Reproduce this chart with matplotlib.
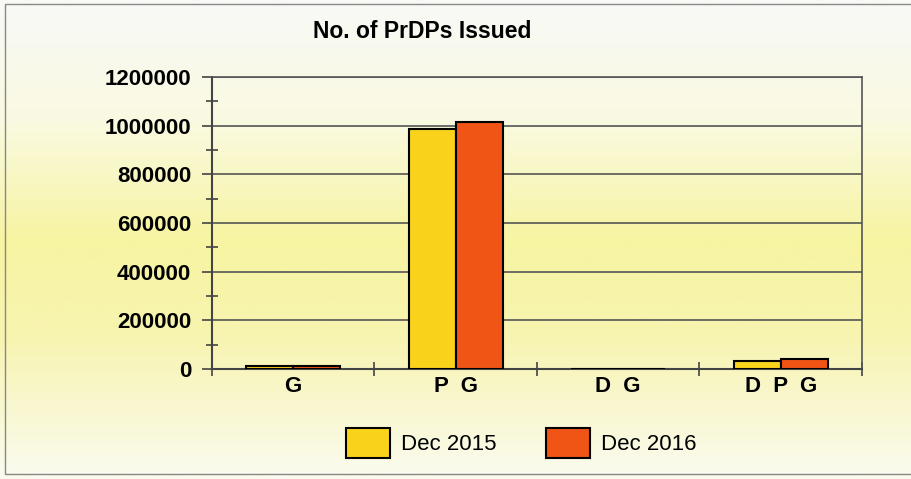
import matplotlib.pyplot as plt
import numpy as np
from matplotlib.colors import LinearSegmentedColormap
from matplotlib.ticker import MultipleLocator, FormatStrFormatter

# data
categories = ["G", "P  G", "D  G", "D  P  G"]
dec_2015 = [12000, 986000, 1500, 33000]
dec_2016 = [12000, 1015000, 1500, 41000]

plt.rcParams['font.family'] = ['Liberation Sans', 'DejaVu Sans']

fig = plt.figure(figsize=(9.11, 4.79), dpi=100)

# background gradient (pale top, yellow middle, white bottom)
bg = fig.add_axes([0, 0, 1, 1], zorder=-2)
cmap = LinearSegmentedColormap.from_list(
    "bg", [(0.0, "#fbfbf0"), (0.3, "#f7f4b0"), (0.5, "#f7f4a2"), (0.75, "#fafae2"), (1.0, "#f8f9f6")])
grad = np.linspace(0, 1, 256).reshape(-1, 1)
bg.imshow(grad, aspect="auto", cmap=cmap, extent=[0, 1, 0, 1])
bg.set_xlim(0, 1)
bg.set_ylim(1, 0)
bg.axis("off")
# thin frame around the chart
bg.plot([0.999, 0.006, 0.006, 0.999], [0.008, 0.008, 0.99, 0.99], color="#888888", lw=1)

ax = fig.add_axes([0.2327, 0.2296, 0.7135, 0.6096])
ax.set_facecolor("none")

x = np.arange(len(categories))
w = 0.29
ax.bar(x - w / 2, dec_2015, w, color="#f9d21c", edgecolor="black", lw=1.5, label="Dec 2015", zorder=3)
ax.bar(x + w / 2, dec_2016, w, color="#f05515", edgecolor="black", lw=1.5, label="Dec 2016", zorder=3)

ax.set_xlim(-0.5, len(categories) - 0.5)
ax.set_ylim(0, 1200000)
ax.yaxis.set_major_locator(MultipleLocator(200000))
ax.yaxis.set_minor_locator(MultipleLocator(100000))
ax.yaxis.set_major_formatter(FormatStrFormatter("%d"))
ax.yaxis.grid(True, color="#555555", lw=1.2, zorder=1)
ax.set_axisbelow(True)

ax.set_xticks(x)
ax.set_xticklabels(categories, fontsize=16, fontweight="bold")
ax.set_xticks(np.arange(-0.5, len(categories)), minor=True)
ax.tick_params(axis="x", which="major", length=0, pad=5)
ax.tick_params(axis="x", which="minor", direction="inout", length=10, width=1.2, color="#444444")
ax.tick_params(axis="y", which="major", direction="out", length=7, width=1.2, color="#444444",
               labelsize=16, pad=8)
ax.tick_params(axis="y", which="minor", direction="inout", length=8, width=1.2, color="#444444")
for lab in ax.get_yticklabels():
    lab.set_fontweight("bold")

for side in ["left", "bottom"]:
    ax.spines[side].set_color("#444444")
    ax.spines[side].set_linewidth(1.5)
for side in ["top", "right"]:
    ax.spines[side].set_color("#555555")
    ax.spines[side].set_linewidth(1.2)

fig.text(0.463, 0.935, "No. of PrDPs Issued", fontsize=16.5, fontweight="bold", ha="center", va="center")

fig.legend(loc="center", bbox_to_anchor=(0.572, 0.075), ncol=2, frameon=False, fontsize=16,
           handlelength=2.0, handleheight=1.7, columnspacing=2.2, handletextpad=0.5)

fig.savefig("out.png", dpi=100)
